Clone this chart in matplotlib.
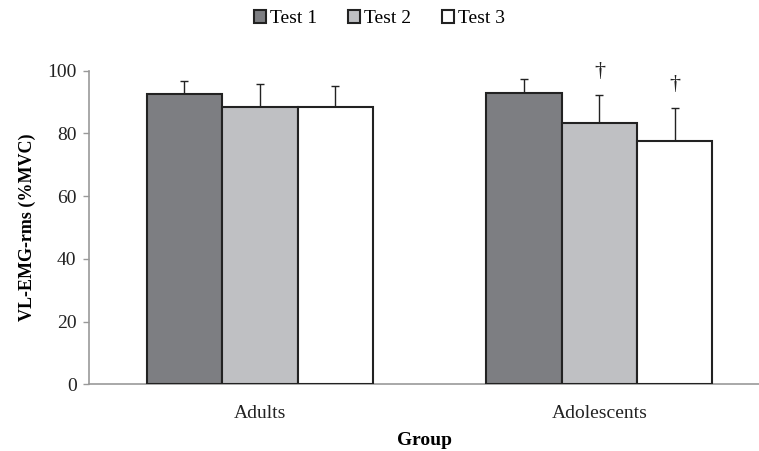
import matplotlib.pyplot as plt
import numpy as np

plt.rcParams['font.family'] = ['Liberation Serif', 'DejaVu Serif']

# EMG amplitude per group and test session (mean and SD, % of MVC)
groups = ['Adults', 'Adolescents']
tests = ['Test 1', 'Test 2', 'Test 3']
test1_mean = [92.6, 92.8]
test2_mean = [88.4, 83.3]
test3_mean = [88.4, 77.7]
test1_sd = [4.0, 4.6]
test2_sd = [7.3, 9.0]
test3_sd = [6.8, 10.5]
# significant difference from Test 1 (dagger)
test2_sig = [False, True]
test3_sig = [False, True]

colors = ['#7d7e82', '#bfc0c3', '#ffffff']

fig = plt.figure(figsize=(7.59, 4.51), dpi=100)
ax = fig.add_axes([0.1173, 0.1479, 0.8827, 0.6953])

x = np.arange(len(groups))
width = 0.222
means = [test1_mean, test2_mean, test3_mean]
sds = [test1_sd, test2_sd, test3_sd]
sigs = [None, test2_sig, test3_sig]

handles = []
for k in range(3):
	pos = x + (k - 1) * width
	b = ax.bar(pos, means[k], width, color=colors[k], edgecolor='#222222',
			   linewidth=1.5, zorder=3, label=tests[k])
	ax.errorbar(pos, means[k], yerr=[np.zeros(len(groups)), sds[k]], fmt='none',
				ecolor='#222222', elinewidth=1.0, capsize=3, capthick=1.0, zorder=2)
	handles.append(b)
	if sigs[k] is not None:
		for i in range(len(groups)):
			if sigs[k][i]:
				ax.text(pos[i], means[k][i] + sds[k][i] + 7.5, u'\u2020', ha='center',
						va='center', fontsize=16, color='#222222')

ax.set_xlim(-0.503, 1.47)
ax.set_ylim(0, 100)
ax.set_yticks([0, 20, 40, 60, 80, 100])
ax.set_xticks(x)
ax.set_xticklabels(groups)
ax.tick_params(axis='x', length=0, pad=15, labelsize=14, colors='#222222')
ax.tick_params(axis='y', length=4, width=1, direction='out', pad=5, labelsize=14,
			   color='#999999', labelcolor='#222222')

for s in ['top', 'right']:
	ax.spines[s].set_visible(False)
for s in ['left', 'bottom']:
	ax.spines[s].set_color('#999999')
	ax.spines[s].set_linewidth(1.2)

ax.set_ylabel('VL-EMG-rms (%MVC)', fontsize=13, fontweight='bold', labelpad=8)
ax.set_xlabel('Group', fontsize=14, fontweight='bold', labelpad=7)

fig.legend(handles=handles, loc='center', bbox_to_anchor=(0.5, 0.958), ncol=3,
		   frameon=False, fontsize=14, handlelength=0.6, handleheight=0.6,
		   handletextpad=0.2, columnspacing=1.6)

fig.savefig('out.png', dpi=100)
